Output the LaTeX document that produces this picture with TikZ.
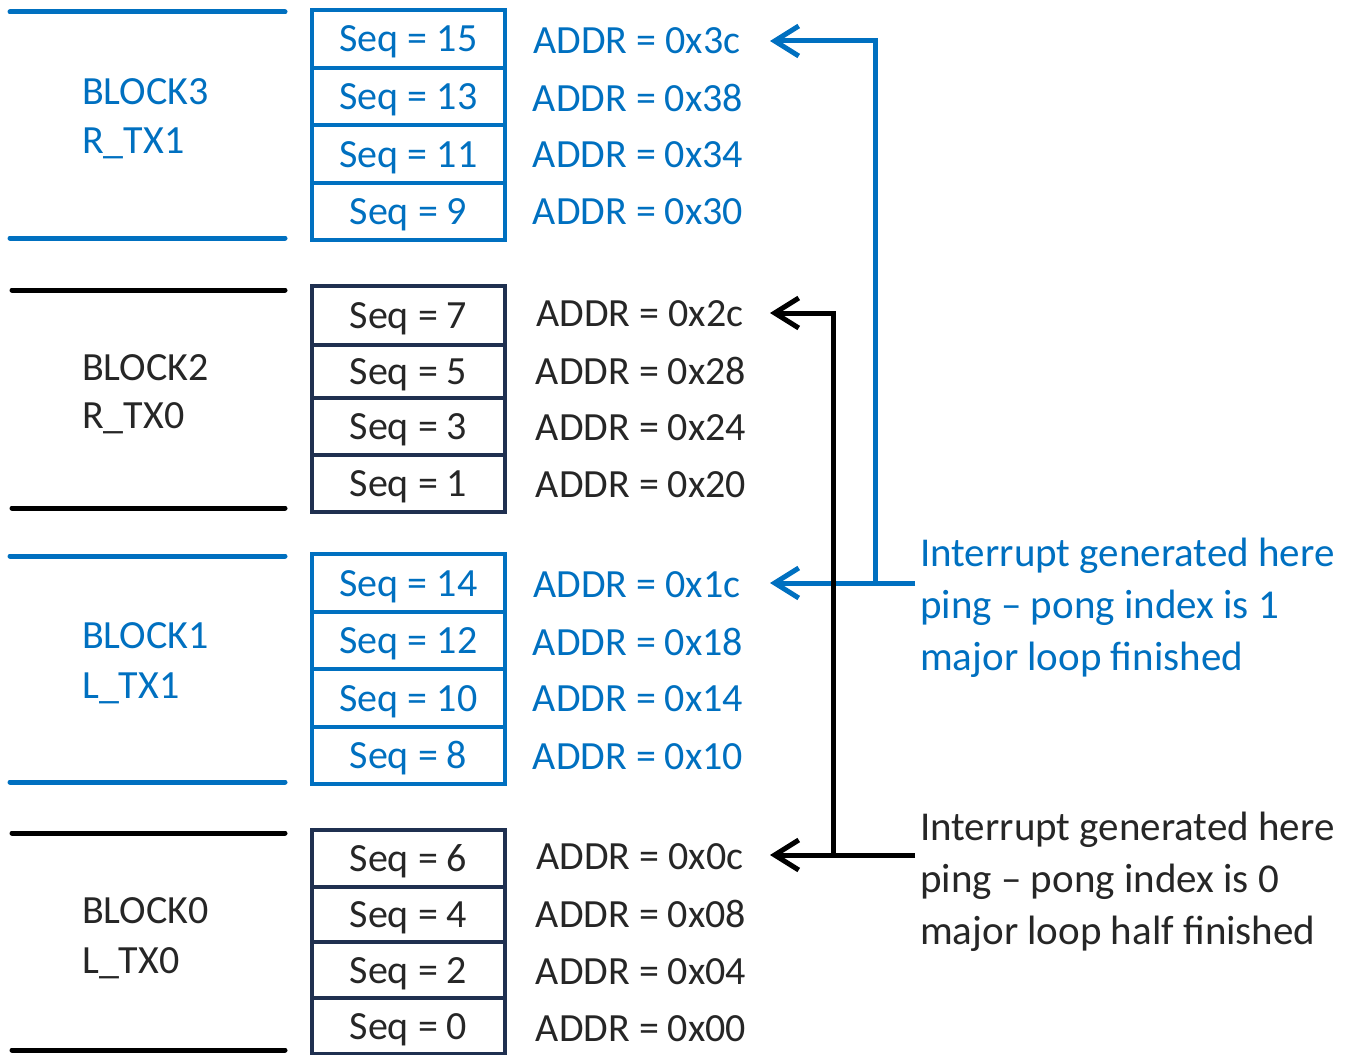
\documentclass[tikz,border=0pt]{standalone}
\usepackage{fontspec}
\setmainfont{Carlito}
\usetikzlibrary{arrows.meta}
\definecolor{cblue}{HTML}{0070C0}
\definecolor{cnavy}{HTML}{1F3050}
\definecolor{cdark}{HTML}{262626}
\tikzset{
  hline/.style={line width=5pt, line cap=round},
  seqbox/.style={draw, rectangle, line width=4pt, minimum width=193pt, inner sep=0pt,
     text height=26pt, text depth=0pt,
     font=\fontsize{40}{46}\selectfont},
  addrtxt/.style={inner sep=0pt, font=\fontsize{40}{46}\selectfont},
  blocktxt/.style={inner sep=0pt, anchor=west, font=\fontsize{40}{46}\selectfont},
  anntxt/.style={inner sep=0pt, anchor=north west, align=left, font=\fontsize{41}{52}\selectfont},
  conn/.style={line width=5pt, -{Straight Barb[length=24pt,width=30pt,line width=5pt]}},
}
\begin{document}
\begin{tikzpicture}[x=1pt,y=-1pt]
\useasboundingbox (0,0) rectangle (1348,1054);

% ---------- BLOCK3 (blue)
\draw[hline, cblue] (10,12) -- (285,12);
\draw[hline, cblue] (10,238) -- (285,238);
\node[blocktxt, text=cblue] (b3a) at (82,92) {BLOCK3};
\node[blocktxt, text=cblue] (b3b) at (82,143) {R\_TX1};
\node[seqbox, draw=cblue, text=cblue, minimum height=58pt] (s15) at (408.5,39) {Seq = 15};
\node[seqbox, draw=cblue, text=cblue, minimum height=57pt] (s13) at (408.5,96.5) {Seq = 13};
\node[seqbox, draw=cblue, text=cblue, minimum height=58pt] (s11) at (408.5,154) {Seq = 11};
\node[seqbox, draw=cblue, text=cblue, minimum height=57pt] (s9) at (408.5,211.5) {Seq = 9};
\node[addrtxt, text=cblue] (a3c) at (637,41) {ADDR = 0x3c};
\node[addrtxt, text=cblue] (a38) at (638,98) {ADDR = 0x38};
\node[addrtxt, text=cblue] (a34) at (638,155) {ADDR = 0x34};
\node[addrtxt, text=cblue] (a30) at (638,212) {ADDR = 0x30};

% ---------- BLOCK2 (black)
\draw[hline, black] (12,290) -- (285,290);
\draw[hline, black] (12,508) -- (285,508);
\node[blocktxt, text=cdark] (b2a) at (82,368) {BLOCK2};
\node[blocktxt, text=cdark] (b2b) at (82,418) {R\_TX0};
\node[seqbox, draw=cnavy, text=cdark, minimum height=59pt] (s7) at (408.5,315.5) {Seq = 7};
\node[seqbox, draw=cnavy, text=cdark, minimum height=53pt] (s5) at (408.5,371.5) {Seq = 5};
\node[seqbox, draw=cnavy, text=cdark, minimum height=57pt] (s3) at (408.5,426.5) {Seq = 3};
\node[seqbox, draw=cnavy, text=cdark, minimum height=57pt] (s1) at (408.5,483.5) {Seq = 1};
\node[addrtxt, text=cdark] (a2c) at (640,314) {ADDR = 0x2c};
\node[addrtxt, text=cdark] (a28) at (641,371) {ADDR = 0x28};
\node[addrtxt, text=cdark] (a24) at (641,428) {ADDR = 0x24};
\node[addrtxt, text=cdark] (a20) at (641,485) {ADDR = 0x20};

% ---------- BLOCK1 (blue)
\draw[hline, cblue] (10,556) -- (285,556);
\draw[hline, cblue] (10,782) -- (285,782);
\node[blocktxt, text=cblue] (b1a) at (82,636) {BLOCK1};
\node[blocktxt, text=cblue] (b1b) at (82,688) {L\_TX1};
\node[seqbox, draw=cblue, text=cblue, minimum height=58pt] (s14) at (408.5,583) {Seq = 14};
\node[seqbox, draw=cblue, text=cblue, minimum height=57pt] (s12) at (408.5,640.5) {Seq = 12};
\node[seqbox, draw=cblue, text=cblue, minimum height=58pt] (s10) at (408.5,698) {Seq = 10};
\node[seqbox, draw=cblue, text=cblue, minimum height=57pt] (s8) at (408.5,755.5) {Seq = 8};
\node[addrtxt, text=cblue] (a1c) at (637,585) {ADDR = 0x1c};
\node[addrtxt, text=cblue] (a18) at (638,642) {ADDR = 0x18};
\node[addrtxt, text=cblue] (a14) at (638,699) {ADDR = 0x14};
\node[addrtxt, text=cblue] (a10) at (638,757) {ADDR = 0x10};

% ---------- BLOCK0 (black)
\draw[hline, black] (12,833) -- (285,833);
\draw[hline, black] (12,1050) -- (285,1050);
\node[blocktxt, text=cdark] (b0a) at (82,911) {BLOCK0};
\node[blocktxt, text=cdark] (b0b) at (82,963) {L\_TX0};
\node[seqbox, draw=cnavy, text=cdark, minimum height=57pt] (s6) at (408.5,858.5) {Seq = 6};
\node[seqbox, draw=cnavy, text=cdark, minimum height=55pt] (s4) at (408.5,914.5) {Seq = 4};
\node[seqbox, draw=cnavy, text=cdark, minimum height=56pt] (s2) at (408.5,970) {Seq = 2};
\node[seqbox, draw=cnavy, text=cdark, minimum height=56pt] (s0) at (408.5,1026) {Seq = 0};
\node[addrtxt, text=cdark] (a0c) at (640,857) {ADDR = 0x0c};
\node[addrtxt, text=cdark] (a08) at (641,914) {ADDR = 0x08};
\node[addrtxt, text=cdark] (a04) at (641,972) {ADDR = 0x04};
\node[addrtxt, text=cdark] (a00) at (641,1029) {ADDR = 0x00};

% ---------- annotations
\node[anntxt, text=cblue] (ann1) at (920,538) {Interrupt generated here\\ping -- pong index is 1\\major loop finished};
\node[anntxt, text=cdark] (ann0) at (920,812) {Interrupt generated here\\ping -- pong index is 0\\major loop half finished};

% ---------- connectors
\coordinate (e1) at (915,583);
\coordinate (j1) at (875,583);
\coordinate (k1) at (875,41);
\coordinate (t1a) at (770,583);
\coordinate (t1b) at (770,41);
\coordinate (e0) at (915,855);
\coordinate (j0) at (833,855);
\coordinate (k0) at (833,313);
\coordinate (t0a) at (770,855);
\coordinate (t0b) at (770,313);

\draw[conn, cblue] (e1) -- (t1a);
\draw[conn, cblue] (j1) -- (k1) -- (t1b);
\draw[conn, black] (e0) -- (t0a);
\draw[conn, black] (j0) -- (k0) -- (t0b);
\end{tikzpicture}
\end{document}
